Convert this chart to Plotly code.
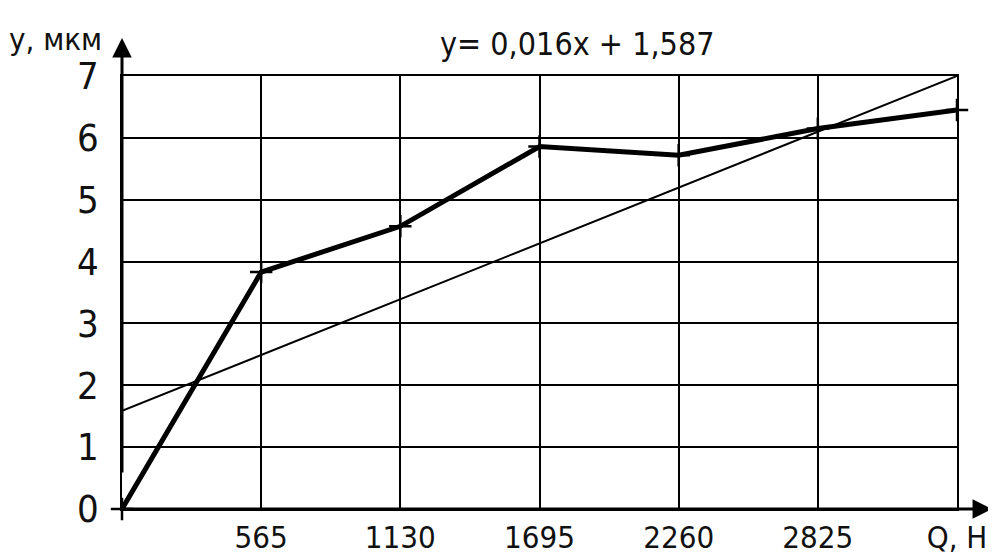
import plotly.graph_objects as go

# Data
q_values = [0, 565, 1130, 1695, 2260, 2825, 3390]
y_values = [0, 3.83, 4.57, 5.86, 5.72, 6.15, 6.45]
trend_x = [0, 3390]
trend_y = [1.587, 7.0]
x_tickvals = [565, 1130, 1695, 2260, 2825, 3390]
x_ticktext = ["565", "1130", "1695", "2260", "2825", "Q, Н"]
y_tickvals = [0, 1, 2, 3, 4, 5, 6, 7]
equation_text = "y= 0,016x + 1,587"
y_axis_title = "y, мкм"

FONT = "DejaVu Sans Condensed, Roboto Condensed, Liberation Sans Narrow, Roboto, sans-serif"

fig = go.Figure()
fig.add_trace(go.Scatter(x=trend_x, y=trend_y, mode="lines",
                         line=dict(color="black", width=2), showlegend=False,
                         cliponaxis=False))
fig.add_trace(go.Scatter(x=q_values, y=y_values, mode="lines+markers",
                         line=dict(color="black", width=5),
                         marker=dict(symbol="cross-thin", size=16,
                                     line=dict(color="black", width=2.5)),
                         showlegend=False, cliponaxis=False))

fig.update_layout(
    width=996, height=555,
    margin=dict(l=114, r=47, t=68, b=54),
    plot_bgcolor="white", paper_bgcolor="white",
    font=dict(family=FONT, size=36, color="#111"),
    xaxis=dict(range=[0, 3390], tickvals=x_tickvals, ticktext=x_ticktext,
               showgrid=True, gridcolor="black", gridwidth=1.5,
               zeroline=False, showline=True, mirror=True, automargin=False,
               linecolor="black", linewidth=1.5, ticks="",
               ticklabelstandoff=0,
               tickfont=dict(family=FONT, size=31, color="#111")),
    yaxis=dict(range=[0, 7], tickvals=y_tickvals,
               showgrid=True, gridcolor="black", gridwidth=1.5,
               zeroline=False, showline=True, mirror=True, automargin=False,
               linecolor="black", linewidth=1.5, ticks="",
               ticklabelstandoff=14,
               tickfont=dict(family=FONT, size=38, color="#111")),
)

# Axis arrows
fig.add_annotation(xref="paper", yref="paper", x=0, y=1.088, ax=0, ay=436,
                   showarrow=True, arrowhead=2, arrowsize=1.3, arrowwidth=3,
                   arrowcolor="black", text="")
fig.add_annotation(xref="paper", yref="paper", x=1.042, y=0, ax=-872, ay=0,
                   showarrow=True, arrowhead=2, arrowsize=1.3, arrowwidth=3,
                   arrowcolor="black", text="")

# Texts
fig.add_annotation(xref="paper", yref="paper", x=-0.022, y=1.04,
                   xanchor="right", yanchor="bottom", showarrow=False,
                   text=y_axis_title,
                   font=dict(family=FONT, size=31, color="#111"))
fig.add_annotation(xref="paper", yref="paper", x=0.545, y=1.025,
                   xanchor="center", yanchor="bottom", showarrow=False,
                   text=equation_text,
                   font=dict(family=FONT, size=32, color="#111"))

fig.write_html("out.html")
